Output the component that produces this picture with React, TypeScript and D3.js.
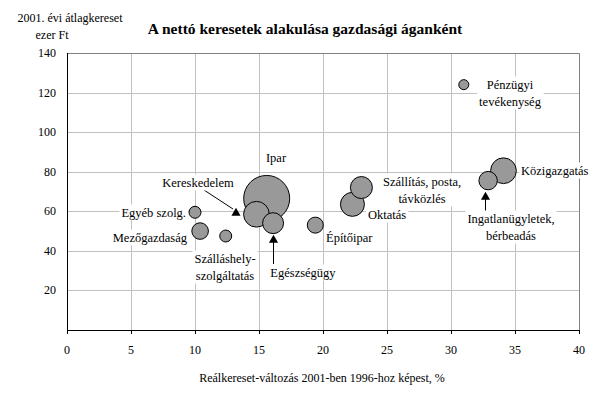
import React, { useEffect, useRef } from 'react';
import * as d3 from 'd3';

// ágazatok: reálkereset-változás (%), 2001. évi átlagkereset (ezer Ft), létszám (ezer fő, buborékméret)
const sectors = ['Egyéb szolg.', 'Mezőgazdaság', 'Szálláshely-szolgáltatás', 'Ipar', 'Kereskedelem', 'Egészségügy', 'Építőipar', 'Szállítás, posta, távközlés', 'Oktatás', 'Pénzügyi tevékenység', 'Ingatlanügyletek, bérbeadás', 'Közigazgatás'];
const realChange = [10.0, 10.4, 12.4, 15.6, 14.8, 16.1, 19.4, 23.0, 22.3, 31.0, 32.9, 34.1];
const avgWage = [59.5, 50, 47.5, 66.5, 58.5, 54, 53, 72, 63.5, 124, 75.5, 80.5];
const headcount = [54, 104, 54, 800, 250, 166, 97, 183, 218, 38, 128, 250];

const xTicks = [0, 5, 10, 15, 20, 25, 30, 35, 40];
const yTicks = [0, 20, 40, 60, 80, 100, 120, 140];

// címkék: sorai, középpont, igazítás
const labels = [
  { lines: ['Egyéb szolg.'], x: 186, y: 212, anchor: 'end' },
  { lines: ['Mezőgazdaság'], x: 187, y: 237, anchor: 'end' },
  { lines: ['Szálláshely-', 'szolgáltatás'], x: 225, y: 258, anchor: 'middle' },
  { lines: ['Ipar'], x: 276, y: 157, anchor: 'middle' },
  { lines: ['Kereskedelem'], x: 198, y: 182, anchor: 'middle' },
  { lines: ['Egészségügy'], x: 303, y: 272, anchor: 'middle' },
  { lines: ['Építőipar'], x: 326, y: 237, anchor: 'start' },
  { lines: ['Szállítás, posta,', 'távközlés'], x: 422, y: 181, anchor: 'middle' },
  { lines: ['Oktatás'], x: 368, y: 214, anchor: 'start' },
  { lines: ['Pénzügyi', 'tevékenység'], x: 510, y: 84, anchor: 'middle' },
  { lines: ['Ingatlanügyletek,', 'bérbeadás'], x: 511, y: 218, anchor: 'middle' },
  { lines: ['Közigazgatás'], x: 521, y: 170, anchor: 'start' },
];

const App = () => {
  const ref = useRef(null);

  useEffect(() => {
    const width = 602;
    const height = 399;
    const margin = { left: 67, right: 23, top: 53, bottom: 69 };
    const font = 'Liberation Serif, Times New Roman, serif';

    const svg = d3.select(ref.current);
    svg.selectAll('*').remove();
    svg.attr('width', width).attr('height', height).attr('font-family', font);

    svg.append('rect').attr('width', width).attr('height', height).attr('fill', '#fff');

    const x = d3.scaleLinear().domain([0, 40]).range([margin.left, width - margin.right]);
    const y = d3.scaleLinear().domain([0, 140]).range([height - margin.bottom, margin.top]);
    const r = d3.scaleSqrt().domain([0, 800]).range([0, 23]);

    // rács
    svg.append('g')
      .selectAll('line')
      .data(xTicks.slice(1, -1))
      .enter()
      .append('line')
      .attr('x1', (d) => x(d) + 0.5)
      .attr('x2', (d) => x(d) + 0.5)
      .attr('y1', y(0))
      .attr('y2', y(140))
      .attr('stroke', '#c0c0c0');
    svg.append('g')
      .selectAll('line')
      .data(yTicks.slice(1, -1))
      .enter()
      .append('line')
      .attr('x1', x(0))
      .attr('x2', x(40))
      .attr('y1', (d) => Math.round(y(d)) + 0.5)
      .attr('y2', (d) => Math.round(y(d)) + 0.5)
      .attr('stroke', '#c0c0c0');

    // keret
    svg.append('path')
      .attr('d', `M${x(0)},${Math.round(y(140)) + 0.5}H${x(40) + 0.5}V${y(0)}`)
      .attr('fill', 'none')
      .attr('stroke', '#808080');

    // tengelyek
    svg.append('line')
      .attr('x1', x(0) + 0.5).attr('x2', x(0) + 0.5)
      .attr('y1', y(140)).attr('y2', y(0) + 4)
      .attr('stroke', '#000');
    svg.append('line')
      .attr('x1', x(0)).attr('x2', x(40) + 1)
      .attr('y1', Math.round(y(0)) + 0.5).attr('y2', Math.round(y(0)) + 0.5)
      .attr('stroke', '#000');
    svg.append('g')
      .selectAll('line')
      .data(xTicks)
      .enter()
      .append('line')
      .attr('x1', (d) => x(d) + 0.5)
      .attr('x2', (d) => x(d) + 0.5)
      .attr('y1', y(0))
      .attr('y2', y(0) + 4)
      .attr('stroke', '#000');

    svg.append('g')
      .selectAll('text')
      .data(xTicks)
      .enter()
      .append('text')
      .attr('x', (d) => x(d))
      .attr('y', y(0) + 24)
      .attr('text-anchor', 'middle')
      .attr('font-size', 12)
      .text((d) => d);

    svg.append('g')
      .selectAll('text')
      .data(yTicks.slice(1))
      .enter()
      .append('text')
      .attr('x', 56)
      .attr('y', (d) => y(d) + 4)
      .attr('text-anchor', 'end')
      .attr('font-size', 12)
      .text((d) => d);

    // buborékok
    const data = sectors.map((s, i) => ({ s, x: realChange[i], y: avgWage[i], n: headcount[i] }))
      .sort((a, b) => b.n - a.n);
    svg.append('g')
      .selectAll('circle')
      .data(data)
      .enter()
      .append('circle')
      .attr('cx', (d) => x(d.x))
      .attr('cy', (d) => y(d.y))
      .attr('r', (d) => r(d.n))
      .attr('fill', '#999999')
      .attr('stroke', '#000')
      .attr('stroke-width', 1);

    // nyilak
    const tri = d3.symbol().type(d3.symbolTriangle).size(36);
    svg.append('line').attr('x1', 204).attr('y1', 190).attr('x2', 233).attr('y2', 209).attr('stroke', '#000');
    svg.append('path').attr('d', tri()).attr('transform', 'translate(236,213)').attr('fill', '#000');
    svg.append('line').attr('x1', 273.5).attr('y1', 240).attr('x2', 273.5).attr('y2', 264).attr('stroke', '#000');
    svg.append('path').attr('d', tri()).attr('transform', 'translate(273.5,240)').attr('fill', '#000');
    svg.append('line').attr('x1', 485.5).attr('y1', 197).attr('x2', 485.5).attr('y2', 213).attr('stroke', '#000');
    svg.append('path').attr('d', tri()).attr('transform', 'translate(485.5,197)').attr('fill', '#000');

    // címkék fehér háttérrel
    labels.forEach((l) => {
      const g = svg.append('g');
      const bg = g.append('rect').attr('fill', '#fff');
      const t = g.append('text')
        .attr('text-anchor', l.anchor)
        .attr('font-size', 12.5);
      l.lines.forEach((line, i) => {
        t.append('tspan')
          .attr('x', l.x)
          .attr('y', l.y + 4.5 + i * 17)
          .text(line);
      });
      const b = t.node().getBBox();
      bg.attr('x', b.x - 2).attr('y', b.y - 1).attr('width', b.width + 4).attr('height', b.height + 2);
    });

    // címek
    svg.append('text')
      .attr('x', 305)
      .attr('y', 34)
      .attr('text-anchor', 'middle')
      .attr('font-size', 15.5)
      .attr('font-weight', 'bold')
      .text('A nettó keresetek alakulása gazdasági áganként');
    svg.append('text')
      .attr('x', 70)
      .attr('y', 22)
      .attr('text-anchor', 'middle')
      .attr('font-size', 12)
      .text('2001. évi átlagkereset');
    svg.append('text')
      .attr('x', 52)
      .attr('y', 39)
      .attr('text-anchor', 'middle')
      .attr('font-size', 12)
      .text('ezer Ft');
    svg.append('text')
      .attr('x', 322)
      .attr('y', 382)
      .attr('text-anchor', 'middle')
      .attr('font-size', 12)
      .text('Reálkereset-változás 2001-ben 1996-hoz képest, %');
  }, []);

  return <svg ref={ref} style={{ position: 'absolute', left: 0, top: 0 }}></svg>;
};

export default App;
